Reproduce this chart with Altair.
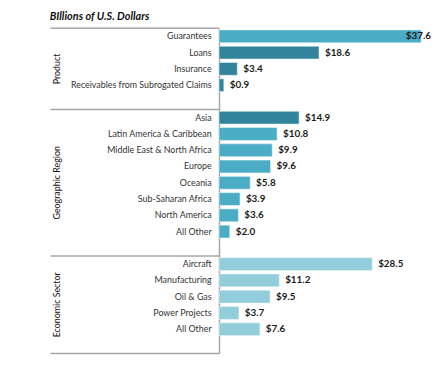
import altair as alt
import pandas as pd

# ---- data ----
group_names = ["Product", "Geographic Region", "Economic Sector"]
group_keys = ["Product", "Region", "Sector"]

product_items = ["Guarantees", "Loans", "Insurance", "Receivables from Subrogated Claims"]
product_values = [37.6, 18.6, 3.4, 0.9]
product_shades = ["mid", "dark", "dark", "dark"]

region_items = ["Asia", "Latin America & Caribbean", "Middle East & North Africa", "Europe",
                "Oceania", "Sub-Saharan Africa", "North America", "All Other"]
region_values = [14.9, 10.8, 9.9, 9.6, 5.8, 3.9, 3.6, 2.0]
region_shades = ["dark", "mid", "mid", "mid", "mid", "mid", "mid", "mid"]

sector_items = ["Aircraft", "Manufacturing", "Oil & Gas", "Power Projects", "All Other"]
sector_values = [28.5, 11.2, 9.5, 3.7, 7.6]
sector_shades = ["light", "light", "light", "light", "light"]

shade_domain = ["dark", "mid", "light"]
shade_range = ["#31849B", "#4BACC6", "#92CDDC"]

FONT = "Lato"
LINE = "#a6a6a6"

groups = [
    (group_keys[0], group_names[0], product_items, product_values, product_shades),
    (group_keys[1], group_names[1], region_items, region_values, region_shades),
    (group_keys[2], group_names[2], sector_items, sector_values, sector_shades),
]

rows, domain, seps, mids = [], [], [], []
for gk, gname, items, vals, shades in groups:
    keys = [f"{gk}|{it}" for it in items] + [f"{gk}|"]
    domain += keys
    seps.append({"key": keys[0]})
    n = len(keys)
    mid = n / 2
    idx = int(mid)
    mids.append({"key": keys[idx], "bp": mid - idx, "name": gname})
    for k, v, s in zip(keys, vals, shades):
        rows.append({"key": k, "value": v, "shade": s})

df = pd.DataFrame(rows)
sep_df = pd.DataFrame(seps)
bottom_df = pd.DataFrame([{"key": domain[-1]}])
mid_df = pd.DataFrame(mids)

yscale = alt.Scale(domain=domain, paddingInner=0, paddingOuter=0)
y_enc = alt.Y("key:N", scale=yscale, sort=None,
              axis=alt.Axis(title=None, ticks=False, labelPadding=8, labelFont=FONT,
                            labelFontSize=9, labelColor="#333333", domainColor=LINE,
                            domainWidth=1.5, labelLimit=300,
                            labelExpr="split(datum.label, '|')[1]"))
x_enc = alt.X("value:Q", scale=alt.Scale(nice=False, zero=True), axis=None)

bars = alt.Chart(df).mark_bar(size=13, stroke="#e6f3f7", strokeWidth=0.6).encode(
    x=x_enc, y=y_enc,
    color=alt.Color("shade:N", scale=alt.Scale(domain=shade_domain, range=shade_range), legend=None),
)

def value_labels(flt, align, dx):
    return alt.Chart(df).transform_filter(flt).transform_calculate(
        lab="'$' + format(datum.value, '.1f')"
    ).mark_text(align=align, baseline="middle", dx=dx, font=FONT, fontSize=10,
                fontWeight="bold", color="#1a1a1a").encode(
        x="value:Q", y=alt.Y("key:N", scale=yscale), text="lab:N")

labels = value_labels("datum.value < 37", "left", 6)
labels_big = value_labels("datum.value >= 37", "right", 10)

sep_rules = alt.Chart(sep_df).mark_rule(color=LINE, strokeWidth=1.5).encode(
    y=alt.Y("key:N", scale=yscale, bandPosition=0),
    x=alt.value(-171), x2=alt.value(0))

bottom_rule = alt.Chart(bottom_df).mark_rule(color=LINE, strokeWidth=1.5).encode(
    y=alt.Y("key:N", scale=yscale, bandPosition=1),
    x=alt.value(-171), x2=alt.value(0))

def group_labels(flt, bp):
    return alt.Chart(mid_df).transform_filter(flt).mark_text(
        angle=270, align="center", baseline="middle", font=FONT, fontSize=9, color="#111111"
    ).encode(y=alt.Y("key:N", scale=yscale, bandPosition=bp), x=alt.value(-164), text="name:N")

glab_half = group_labels("datum.bp > 0.25", 0.5)
glab_zero = group_labels("datum.bp <= 0.25", 0)

chart = alt.layer(bars, labels, labels_big, sep_rules, bottom_rule,
                  glab_half, glab_zero).properties(
    width=205, height=330,
    padding={"left": 42, "top": 0, "right": 0, "bottom": 5},
    title=alt.TitleParams("BIllions of U.S. Dollars", anchor="start", font=FONT,
                          fontSize=11, fontStyle="italic", fontWeight="bold",
                          color="#111111", offset=6),
).configure_view(stroke=None)

chart.save("out.html", embed_options={"renderer": "svg", "actions": False})
